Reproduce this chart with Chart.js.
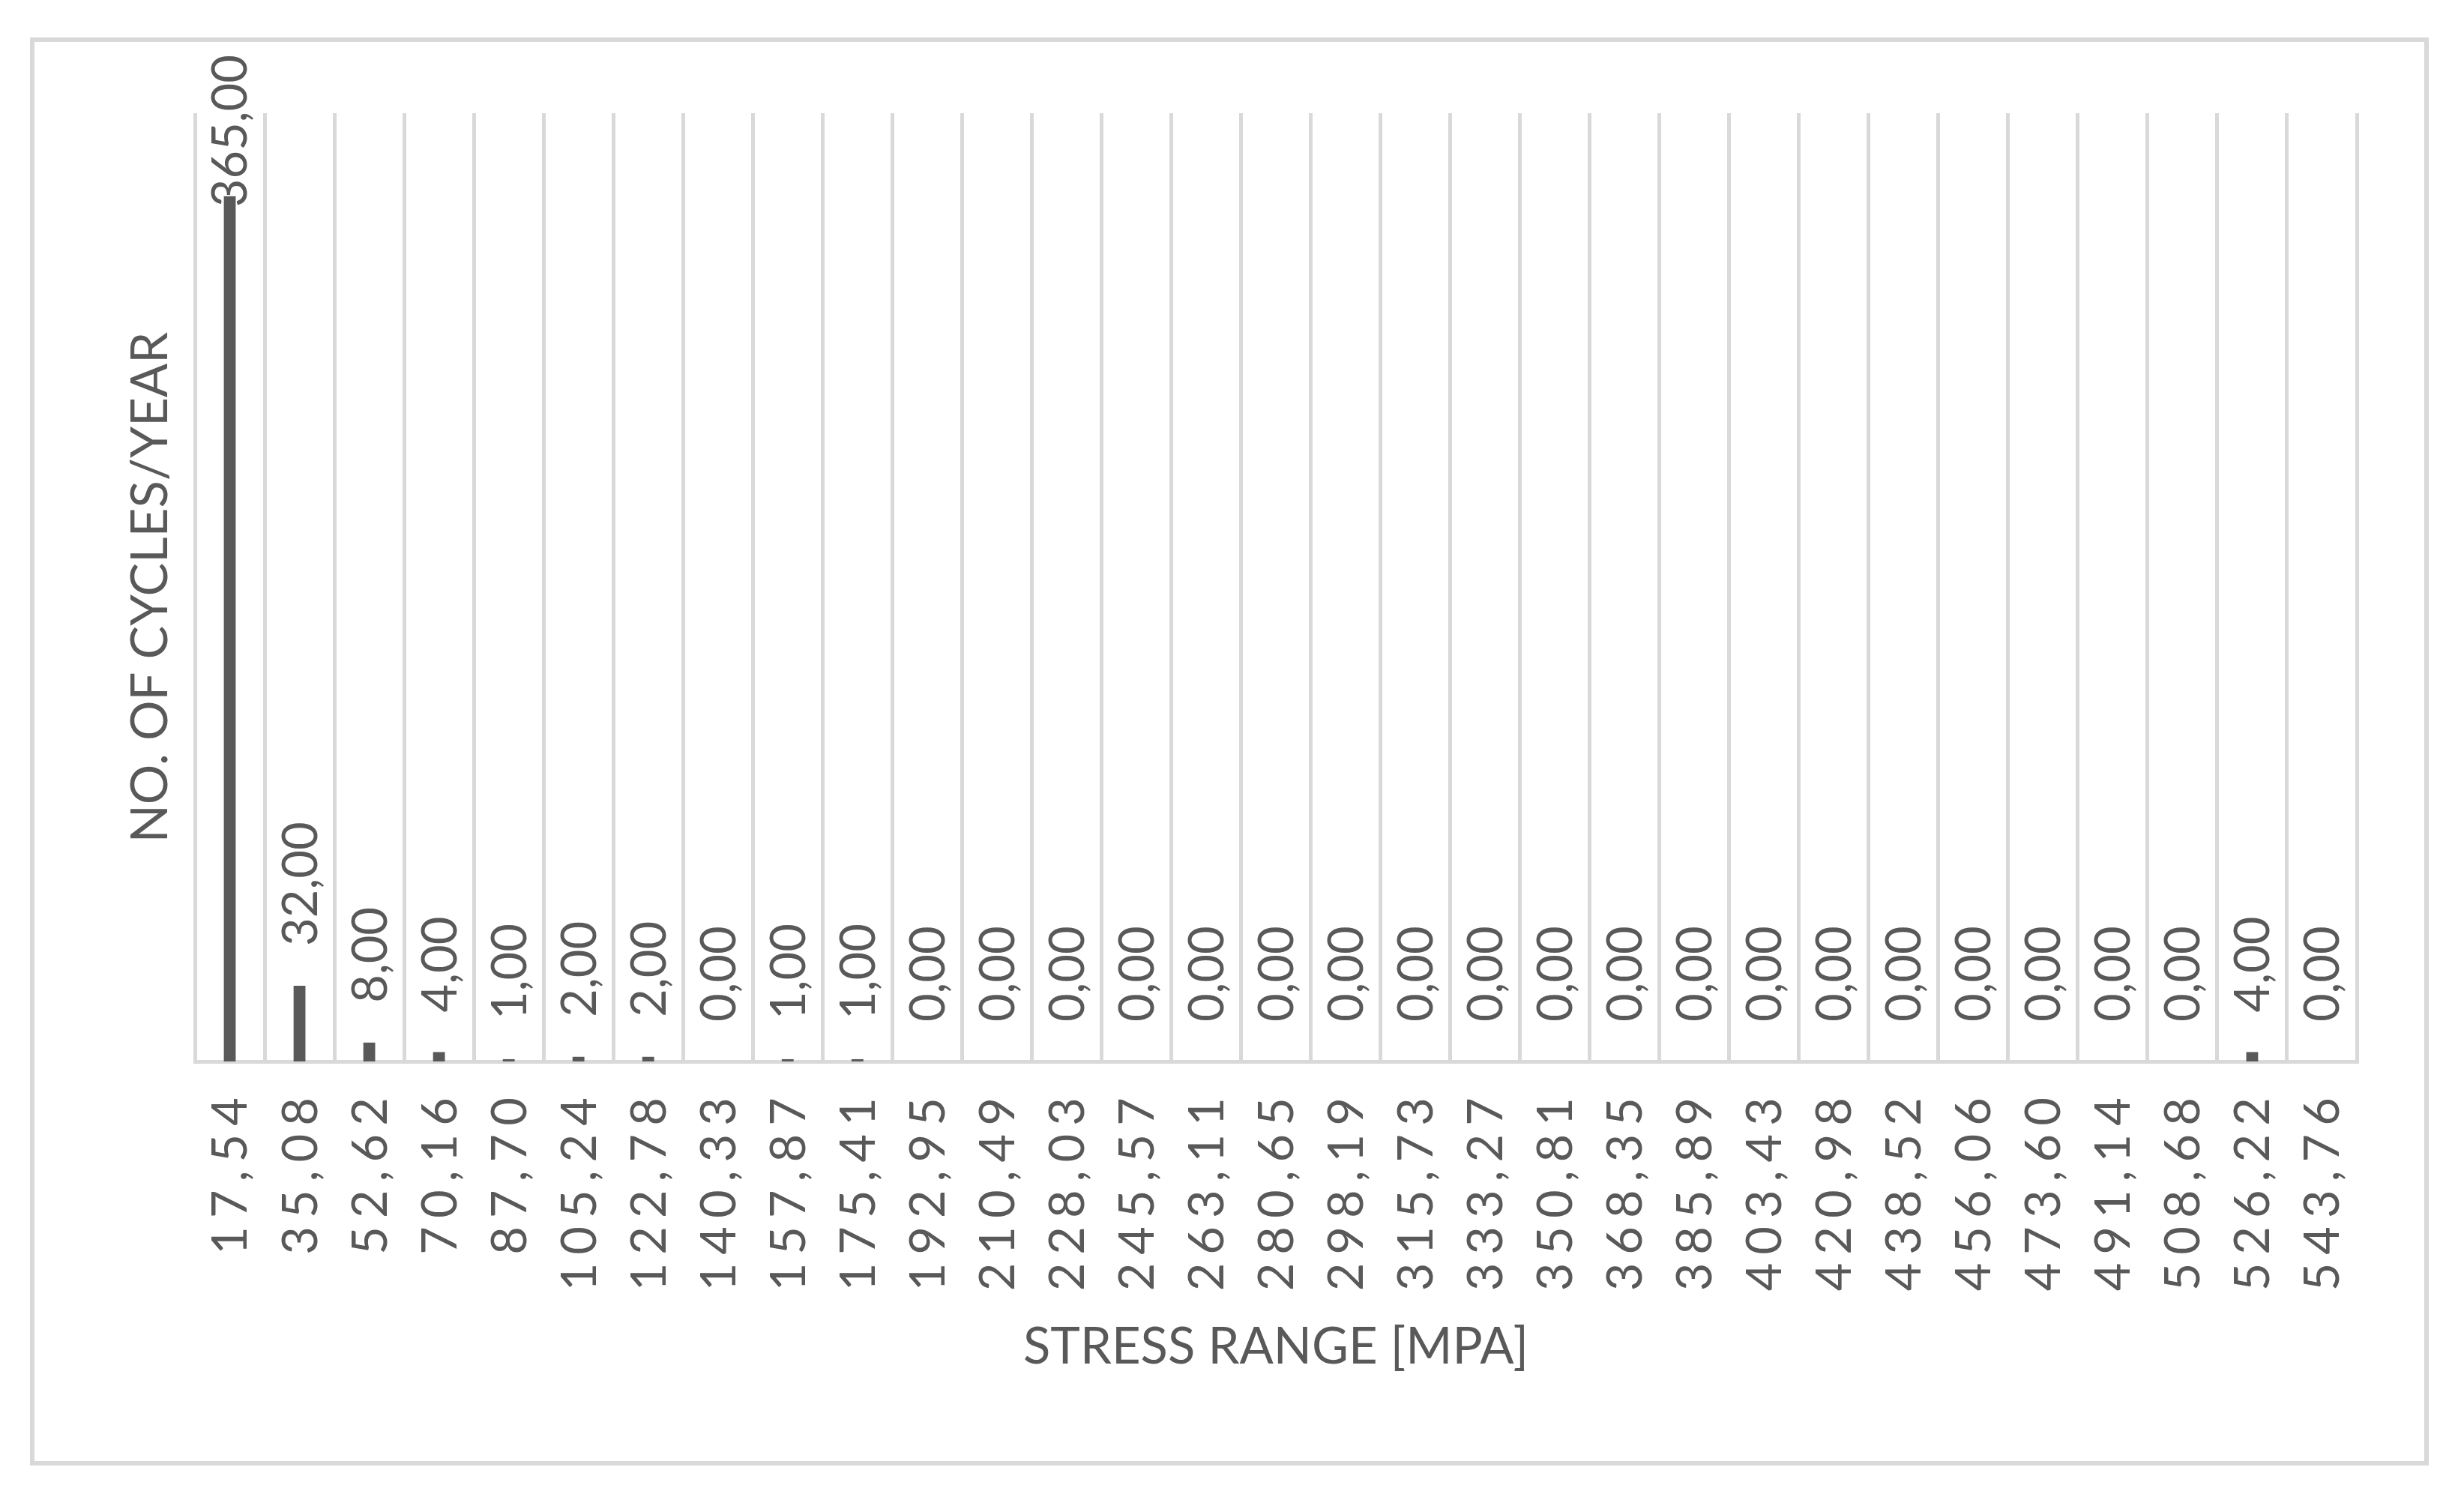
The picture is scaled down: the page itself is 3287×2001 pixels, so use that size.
<!DOCTYPE html>
<html>
<head>
<meta charset="utf-8">
<script src="https://cdn.jsdelivr.net/npm/chart.js@4/dist/chart.umd.min.js"></script>
<style>
  html, body { margin: 0; padding: 0; background: #ffffff; }
  #frame { position: absolute; left: 40px; top: 50px; width: 3200px; height: 1905px; box-sizing: border-box; border: 6px solid #d9d9d9; }
  #chartBox { position: absolute; left: 0; top: 0; width: 3188px; height: 1893px; }
</style>
</head>
<body>
<div id="frame">
  <div id="chartBox"><canvas id="stressChart"></canvas></div>
</div>
<script>
// Stress range classes [MPa]
var stressLabels = ['17,54', '35,08', '52,62', '70,16', '87,70', '105,24', '122,78', '140,33',
  '157,87', '175,41', '192,95', '210,49', '228,03', '245,57', '263,11', '280,65',
  '298,19', '315,73', '333,27', '350,81', '368,35', '385,89', '403,43', '420,98',
  '438,52', '456,06', '473,60', '491,14', '508,68', '526,22', '543,76'];

// No. of cycles per year
var cycleCounts = [365, 32, 8, 4, 1, 2, 2, 0,
  1, 1, 0, 0, 0, 0, 0, 0,
  0, 0, 0, 0, 0, 0, 0, 0,
  0, 0, 0, 0, 0, 4, 0];

var yMin = 0;
var yMax = 400;

var xTitle = 'STRESS RANGE [MPA]';
var yTitle = 'NO. OF CYCLES/YEAR';

var textColor = '#595959';

// Value labels like "365,00"
function formatValue(v)
{
  return v.toFixed(2).replace('.', ',');
}

// Draws the rotated value labels and the rotated category labels
var rotatedLabels = {
  id: 'rotatedLabels',

  afterDatasetsDraw: function (chart) {

    var ctx = chart.ctx;

    var meta = chart.getDatasetMeta(0);

    var xScale = chart.scales.x;

    ctx.save();

    ctx.fillStyle = textColor;

    // value labels above the bars
    ctx.font = '65px Lato';
    ctx.textAlign = 'left';
    ctx.textBaseline = 'middle';

    meta.data.forEach(function (bar, i) {

      var text = formatValue(cycleCounts[i]);

      var len = ctx.measureText(text).width;

      var start = bar.y - 53;

      if (start - len < 17)
      {
        start = 17 + len;
      }

      ctx.save();
      ctx.translate(bar.x + 2, start);
      ctx.rotate(-Math.PI / 2);
      ctx.fillText(text, 0, 0);
      ctx.restore();
    });

    // category labels under the axis
    ctx.font = '65px Lato';
    ctx.letterSpacing = '11px';
    ctx.textAlign = 'right';

    stressLabels.forEach(function (label, i) {

      var x = xScale.getPixelForTick(i);

      ctx.save();
      ctx.translate(x + 2, chart.chartArea.bottom + 37);
      ctx.rotate(-Math.PI / 2);
      ctx.fillText(label, 0, 0);
      ctx.restore();
    });

    ctx.restore();
  }
};

new Chart(document.getElementById('stressChart'), {

  type: 'bar',

  data: {
    labels: stressLabels,

    datasets: [
      {
        data: cycleCounts,

        backgroundColor: '#595959',

        borderWidth: 0,

        categoryPercentage: 1,

        barPercentage: 0.17
      }
    ]
  },

  options: {
    responsive: true,

    maintainAspectRatio: false,

    animation: false,

    devicePixelRatio: 1,

    layout: {
      padding: { left: 115.6, right: 90, top: 95, bottom: 111.5 }
    },

    plugins: {
      legend: { display: false },

      tooltip: { enabled: false }
    },

    scales: {
      x: {
        grid: {
          color: '#d9d9d9',

          lineWidth: 5,

          offset: true,

          drawTicks: false
        },
        border: {
          display: true,

          color: '#d9d9d9',

          width: 5
        },
        ticks: { display: false },

        title: {
          display: true,

          text: xTitle,

          color: textColor,

          font: { family: 'Lato', size: 67 },

          padding: { top: 341, bottom: 0 }
        }
      },
      y: {
        min: yMin,

        max: yMax,

        grid: { display: false, drawTicks: false },

        border: { display: false },

        ticks: { display: false },

        title: {
          display: true,

          text: yTitle,

          color: textColor,

          font: { family: 'Lato', size: 67 },

          padding: { top: 0, bottom: 18 }
        }
      }
    }
  },

  plugins: [rotatedLabels]
});
</script>
</body>
</html>
